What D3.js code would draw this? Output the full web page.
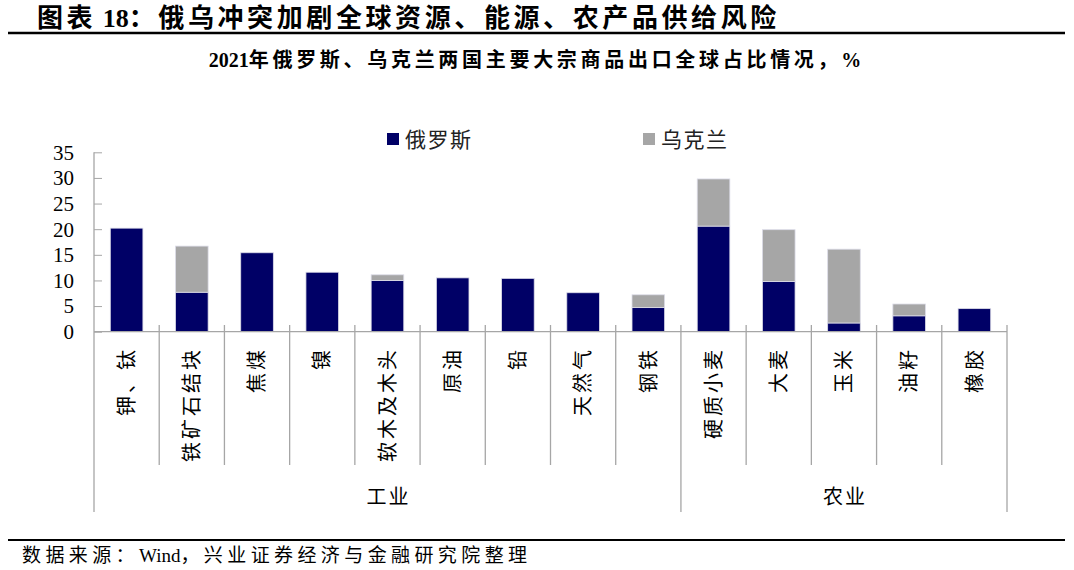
<!DOCTYPE html>
<html><head><meta charset="utf-8">
<script src="https://cdn.jsdelivr.net/npm/d3@7"></script>
<style>body{margin:0;background:#fff;}svg{display:block;}</style>
</head><body>
<svg id="c" width="1074" height="570"></svg>
<script>
const categories = ["钾、钛","铁矿石结块","焦煤","镍","软木及木头","原油","铅","天然气","钢铁","硬质小麦","大麦","玉米","油籽","橡胶"];
const russia  = [20.2, 7.7, 15.4, 11.6, 10.0, 10.5, 10.4, 7.6, 4.7, 20.6, 9.8, 1.7, 3.1, 4.5];
const ukraine = [0, 9.0, 0, 0, 1.1, 0, 0, 0, 2.5, 9.2, 10.1, 14.4, 2.3, 0];
const seriesNames = ["俄罗斯","乌克兰"];
const groups = [{name:"工业", count:9},{name:"农业", count:5}];
const yTicks = [0,5,10,15,20,25,30,35];

const svg = d3.select("#c");
const serif = "'Liberation Serif','Times New Roman','Noto Sans CJK SC',serif";
const axisColor = "#a6a6a6";
const colors = ["#000066","#a6a6a6"];

// write text with letter-spacing only on CJK runs
function mixed(sel, str, ls){
  const runs = str.match(/[\x20-\x7e]+|[^\x20-\x7e]+/g);
  runs.forEach(r=>{
    const t = sel.append("tspan").text(r);
    if (/[^\x20-\x7e]/.test(r)) t.attr("letter-spacing",ls);
  });
  return sel;
}

// Header
const title = svg.append("text").attr("x",37).attr("y",27).attr("font-family",serif).attr("font-weight","bold")
  .attr("font-size",26).attr("fill","#000");
mixed(title,"图表 18：俄乌冲突加剧全球资源、能源、农产品供给风险",3.6);
svg.append("line").attr("x1",8).attr("x2",1065).attr("y1",33).attr("y2",33).attr("stroke","#000").attr("stroke-width",2.5);
const sub = svg.append("text").attr("x",535).attr("y",67).attr("text-anchor","middle").attr("font-family",serif)
  .attr("font-weight","bold").attr("font-size",20);
mixed(sub,"2021年俄罗斯、乌克兰两国主要大宗商品出口全球占比情况，%",3.7);

// Footer
svg.append("line").attr("x1",8).attr("x2",1065).attr("y1",540).attr("y2",540).attr("stroke","#000").attr("stroke-width",2);
const foot = svg.append("text").attr("x",22).attr("y",562).attr("font-family",serif).attr("font-size",19);
mixed(foot,"数据来源：Wind，兴业证券经济与金融研究院整理",4.4);

// Scales
const x0 = 94, x1 = 1007, yBase = 331.7, yTop = 152.3;
const x = d3.scaleBand().domain(categories).range([x0,x1]).paddingInner(0.5).paddingOuter(0.25);
const xOuter = d3.scaleBand().domain(categories).range([x0,x1]);
const y = d3.scaleLinear().domain([0,35]).range([yBase,yTop]);

// Bars
const stackData = categories.map((c,i)=>({cat:c, r:russia[i], u:ukraine[i]}));
const stack = d3.stack().keys(["r","u"])(stackData);
svg.append("g").selectAll("g").data(stack).join("g").attr("fill",(d,i)=>colors[i])
  .selectAll("rect").data(d=>d.filter(s=>s[1]-s[0]>0)).join("rect")
  .attr("x",d=>x(d.data.cat)).attr("width",x.bandwidth())
  .attr("y",d=>y(d[1])).attr("height",d=>y(d[0])-y(d[1]))
  .attr("stroke","#dcdce8").attr("stroke-width",0.8);

// Y axis
const yAxis = d3.axisRight(y).tickValues(yTicks).tickSize(8).tickFormat("");
const ga = svg.append("g").attr("transform",`translate(${x0},0)`).call(yAxis);
ga.select(".domain").remove();
ga.selectAll(".tick line").attr("stroke",axisColor);
svg.append("line").attr("x1",x0).attr("x2",x0).attr("y1",yTop).attr("y2",512).attr("stroke",axisColor).attr("stroke-width",1.3);
svg.append("g").selectAll("text").data(yTicks).join("text")
  .attr("x",74).attr("y",d=>y(d)).attr("dy","0.35em").attr("text-anchor","end")
  .attr("font-family",serif).attr("font-size",21).text(d=>d);

// X axis baseline
svg.append("line").attr("x1",x0).attr("x2",x1).attr("y1",yBase).attr("y2",yBase).attr("stroke",axisColor).attr("stroke-width",1.3);

// Category separators
let boundaries = [];
for (let i=1;i<categories.length;i++) boundaries.push(xOuter(categories[i]));
let groupEdges = [x0]; let acc=0;
groups.forEach(g=>{acc+=g.count; groupEdges.push(acc<categories.length? xOuter(categories[acc]) : x1);});
svg.append("g").selectAll("line").data(boundaries).join("line")
  .attr("x1",d=>d).attr("x2",d=>d).attr("y1",325).attr("y2",d=>groupEdges.some(e=>Math.abs(e-d)<0.5)?512:465)
  .attr("stroke",axisColor).attr("stroke-width",1.3);
svg.append("line").attr("x1",x1).attr("x2",x1).attr("y1",325).attr("y2",512).attr("stroke",axisColor).attr("stroke-width",1.3);

// Category labels (rotated)
svg.append("g").selectAll("text").data(categories).join("text")
  .attr("transform",d=>`translate(${xOuter(d)+xOuter.bandwidth()/2},347) rotate(-90)`)
  .attr("text-anchor","end").attr("dy","0.36em")
  .attr("font-family",serif).attr("font-size",20).attr("letter-spacing",3).text(d=>d);

// Group labels
svg.append("g").selectAll("text").data(groups).join("text")
  .attr("x",(d,i)=>(groupEdges[i]+groupEdges[i+1])/2+1).attr("y",504)
  .attr("text-anchor","middle").attr("font-family",serif).attr("font-size",20).attr("letter-spacing",2).text(d=>d.name);

// Legend
const legX = [387, 643];
const lg = svg.append("g").selectAll("g").data(seriesNames).join("g")
  .attr("transform",(d,i)=>`translate(${legX[i]},133)`);
lg.append("rect").attr("width",12).attr("height",12).attr("fill",(d,i)=>colors[i]);
lg.append("text").attr("x",18).attr("y",14).attr("font-family",serif).attr("font-size",21).attr("letter-spacing",1.5).attr("fill","#222").text(d=>d);
</script>
</body></html>
